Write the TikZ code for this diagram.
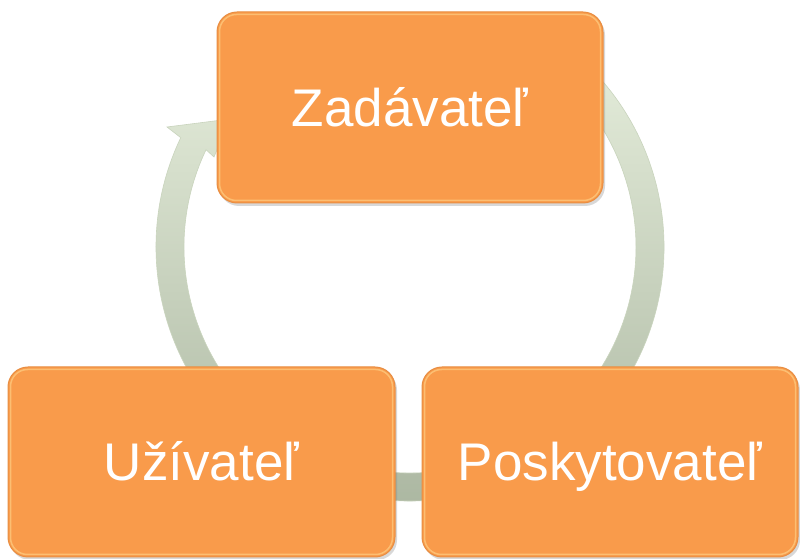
\documentclass[tikz,border=0pt]{standalone}
\usepackage{fontspec}
\setmainfont{Liberation Sans}
\usetikzlibrary{shadows,calc}
\definecolor{boxorange}{HTML}{F99B4B}
\definecolor{boxedge}{HTML}{E88E42}
\definecolor{boxlight}{HTML}{FFD68C}
\definecolor{ringtop}{HTML}{E6EEDC}
\definecolor{ringmid}{HTML}{D9E4CE}
\definecolor{ringbot}{HTML}{A8B49E}
\definecolor{ringedge}{HTML}{C9D4BD}
\begin{document}
\begin{tikzpicture}[x=1pt,y=1pt,
  stagebox/.style={rounded corners=20pt, fill=boxorange, draw=boxedge,
    line width=1pt, text=white, font=\fontsize{53}{60}\selectfont,
    text height=38pt, text depth=0pt, inner sep=0pt,
    drop shadow={opacity=0.3, shadow xshift=2pt, shadow yshift=-3pt}},
  bevel/.style={rounded corners=17pt, draw=boxlight, line width=1.5pt, opacity=0.6}]
\useasboundingbox (0,0) rectangle (800,559);
\fill[white] (0,0) rectangle (800,559);
% ring with arrowhead
\coordinate (C) at (410,312);
\coordinate (W1) at (167,432);
\coordinate (T) at (230,440);
\coordinate (W2) at (214,402);
\shade[top color=ringtop, middle color=ringmid, bottom color=ringbot, draw=ringedge, line width=0.6pt]
  ($(C)+(55:254pt)$) arc[start angle=55, end angle=-205.5, radius=254pt]
  -- (W1) -- (T) -- (W2)
  -- ($(C)+(154.5:226pt)$) arc[start angle=154.5, end angle=415, radius=226pt]
  -- cycle;
% boxes
\node[stagebox, minimum width=386pt, minimum height=191pt] (zad) at (410,451.5) {Zadávateľ};
\node[stagebox, minimum width=387pt, minimum height=190pt] (uzi) at (201.5,97) {Užívateľ};
\node[stagebox, minimum width=376pt, minimum height=190pt] (pos) at (610,97) {Poskytovateľ};
\foreach \b in {zad,uzi,pos}{
  \draw[bevel] ([shift={(3,-3)}]\b.north west) rectangle ([shift={(-3,3)}]\b.south east);
}
\end{tikzpicture}
\end{document}
